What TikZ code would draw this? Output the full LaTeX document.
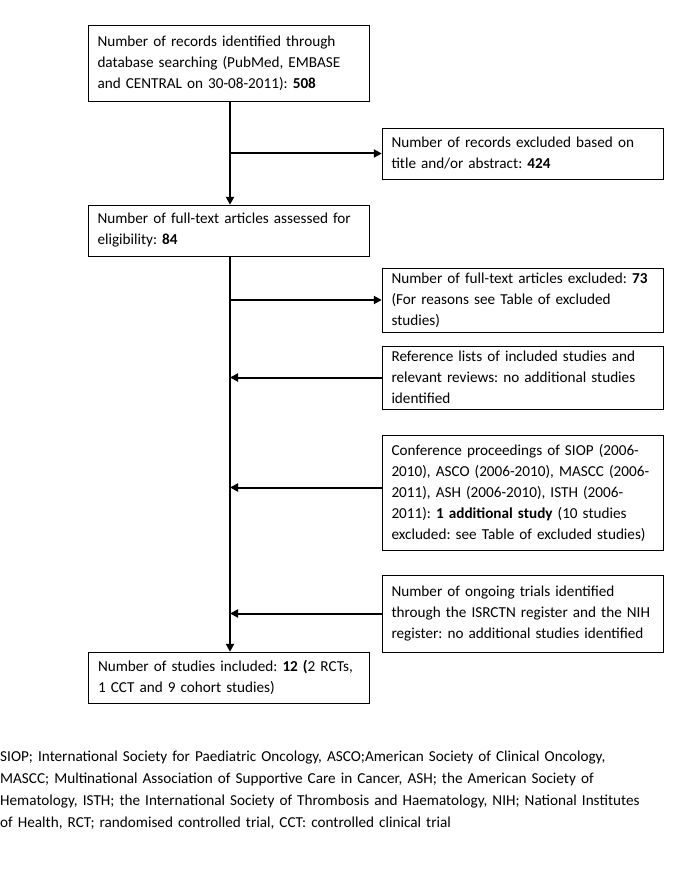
\documentclass[tikz,border=0pt]{standalone}
\usepackage{fontspec}
\setmainfont{Carlito}
\usetikzlibrary{arrows.meta}
\frenchspacing
\begin{document}
\begin{tikzpicture}[x=1pt, y=-1pt, every node/.style={draw, rectangle, align=left, text width=262pt, inner xsep=9.5pt, inner ysep=0pt, font=\fontsize{15.2}{21}\selectfont},
    flow/.style={line width=2pt, -{Triangle[length=8pt,width=8pt]}}]
            \useasboundingbox (0,0) rectangle (684,882);
            \node[minimum height=76pt] (b1) at (228.5,63) {Number of records identified through\\database searching (PubMed, EMBASE\\and CENTRAL on 30-08-2011): \textbf{508}};
            \node[minimum height=51pt] (b2) at (522.5,153.5) {Number of records excluded based on\\title and/or abstract: \textbf{424}};
            \node[minimum height=51pt] (b3) at (228.5,230.5) {Number of full-text articles assessed for\\eligibility: \textbf{84}};
            \node[minimum height=64pt] (b4) at (522.5,300) {Number of full-text articles excluded: \textbf{73}\\(For reasons see Table of excluded\\studies)};
            \node[minimum height=63pt] (b5) at (522.5,377.5) {Reference lists of included studies and\\relevant reviews: no additional studies\\identified};
            \node[minimum height=115pt] (b6) at (522.5,492.5) {Conference proceedings of SIOP (2006-\\2010), ASCO (2006-2010), MASCC (2006-\\2011), ASH (2006-2010), ISTH (2006-\\2011): \textbf{1 additional study} (10 studies\\excluded: see Table of excluded studies)};
            \node[minimum height=77pt] (b7) at (522.5,613.5) {Number of ongoing trials identified\\through the ISRCTN register and the NIH\\register: no additional studies identified};
            \node[minimum height=51pt] (b8) at (229,677.5) {Number of studies included: \textbf{12 (}2 RCTs,\\1 CCT and 9 cohort studies)};
            \node[draw=none, anchor=north west, inner sep=0pt, text width=684pt, font=\fontsize{15.2}{22}\selectfont] (notes) at (0,751) {SIOP; International Society for Paediatric Oncology, ASCO;American Society of Clinical Oncology,\\MASCC; Multinational Association of Supportive Care in Cancer, ASH; the American Society of\\Hematology, ISTH; the International Society of Thrombosis and Haematology, NIH; National Institutes\\of Health, RCT; randomised controlled trial, CCT: controlled clinical trial};
            \draw[flow] (b1.south -| 230,0) -- (b3.north -| 230,0);
            \draw[flow] (b3.south -| 230,0) -- (b8.north -| 230,0);
            \foreach \b in {b2,b4} {
                \draw[flow] (\b.west -| 230,0) -- (\b.west);
            }
            \foreach \b in {b5,b7} {
                \draw[flow] (\b.west) -- (\b.west -| 230,0);
            }
            \draw[flow] ([yshift=5pt]b6.west) -- ([yshift=5pt]b6.west -| 230,0);
        \end{tikzpicture}
\end{document}
